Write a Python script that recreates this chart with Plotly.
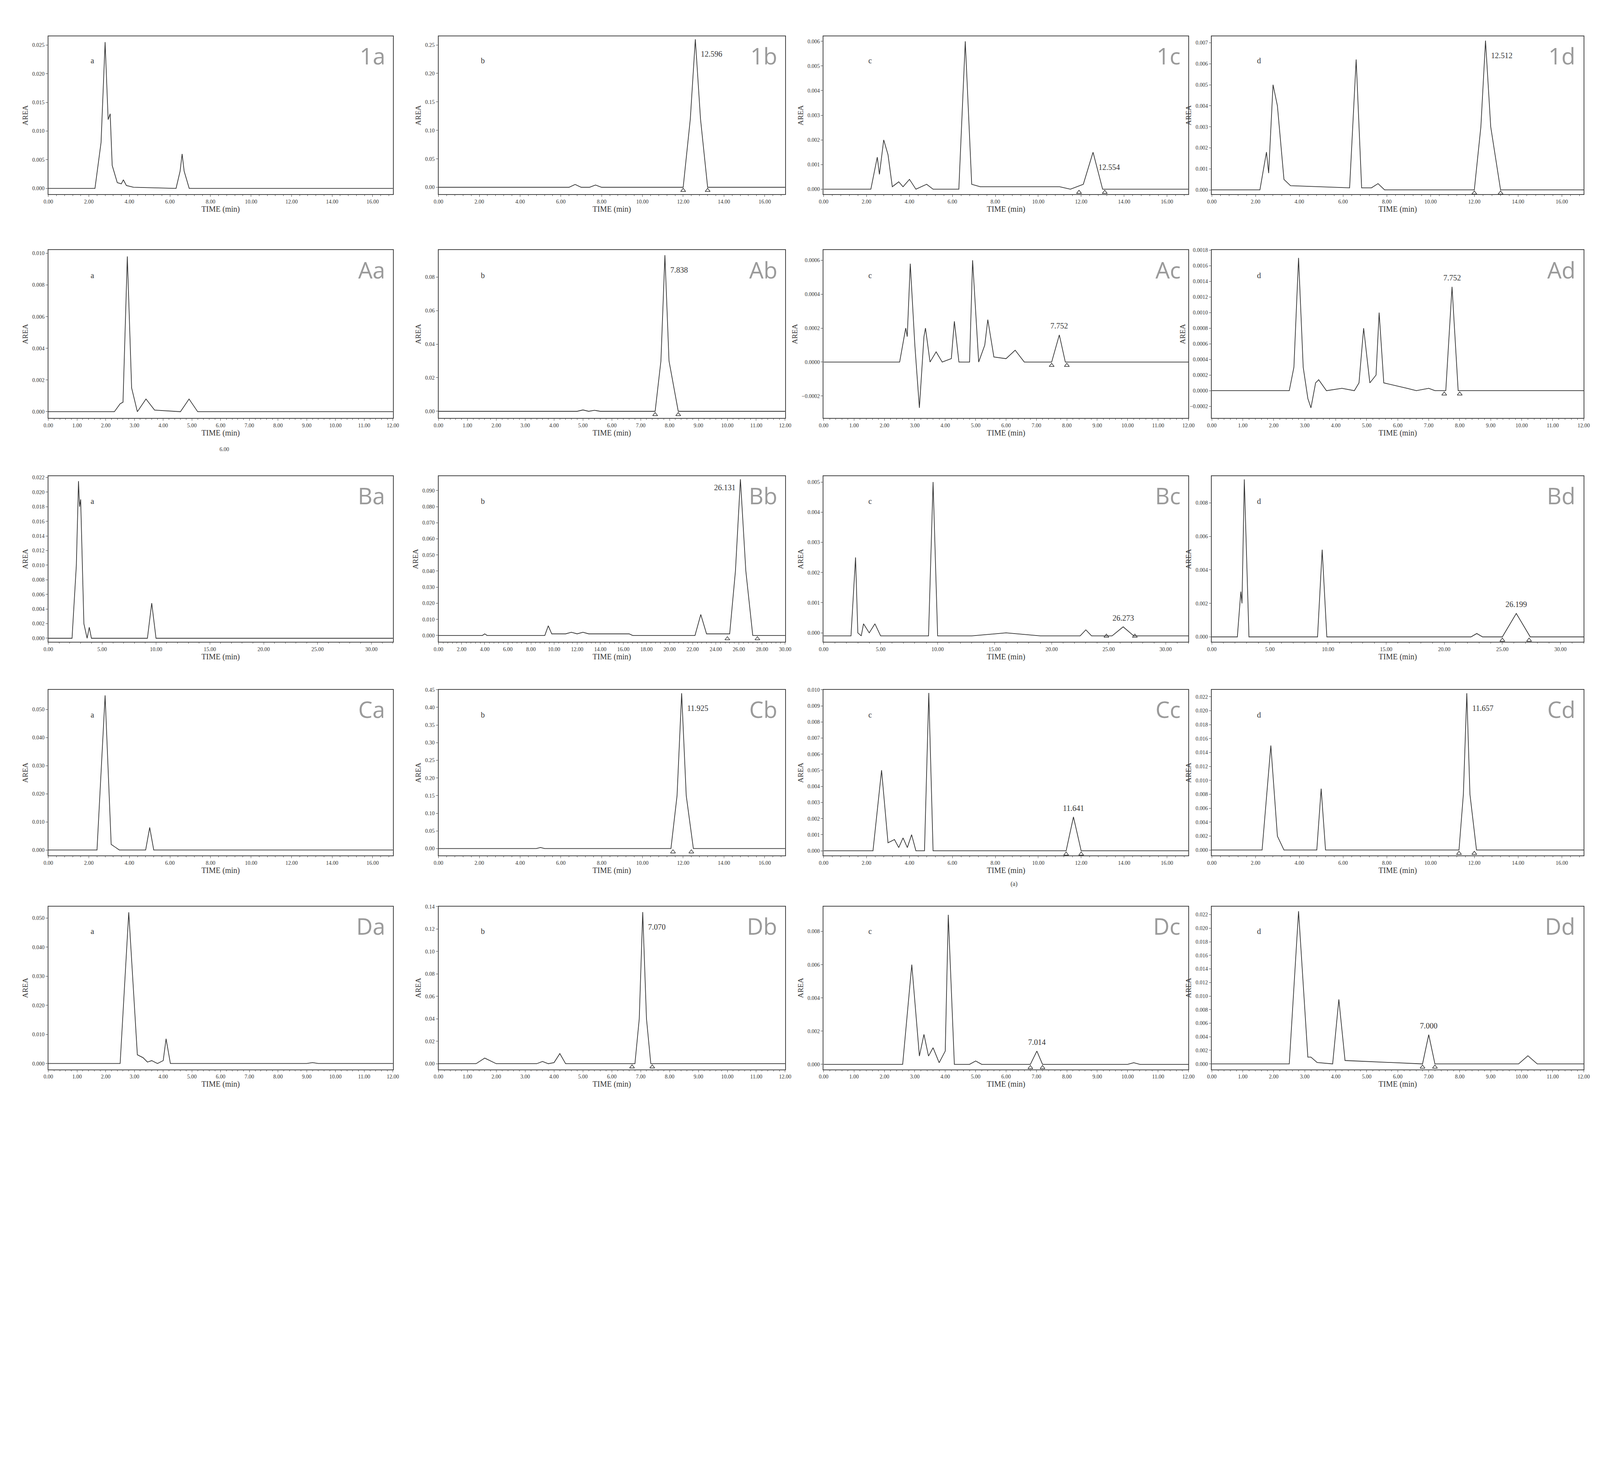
import plotly.graph_objects as go

# ---- chromatogram traces (time in min, AREA) ----
T_1A = [0, 2.3, 2.6, 2.8, 2.95, 3.05, 3.15, 3.4, 3.6, 3.7, 3.85, 4.2, 6.3, 6.5, 6.6, 6.7, 6.95, 17]
Y_1A = [0, 0, 0.008, 0.0255, 0.012, 0.013, 0.004, 0.001, 0.0008, 0.0015, 0.0005, 0.0002, 0, 0.003, 0.006, 0.003, 0, 0]
T_1B = [0, 6.4, 6.7, 7.0, 7.4, 7.7, 8.0, 12.0, 12.35, 12.596, 12.85, 13.2, 17]
Y_1B = [0, 0, 0.005, 0, 0, 0.004, 0, 0, 0.12, 0.26, 0.12, 0, 0]
T_1C = [0, 2.2, 2.5, 2.6, 2.8, 3.0, 3.2, 3.5, 3.7, 4.0, 4.3, 4.8, 5.1, 6.3, 6.6, 6.9, 7.3, 10.5, 11, 11.5, 12.1, 12.554, 13.0, 17]
Y_1C = [0, 0, 0.0013, 0.0006, 0.002, 0.0014, 0.0001, 0.0003, 0.0001, 0.0004, 0, 0.0002, 0, 0, 0.006, 0.0002, 0.0001, 0.0001, 0.0001, 0, 0.0002, 0.0015, 0, 0]
T_1D = [0, 2.2, 2.5, 2.6, 2.8, 3.0, 3.3, 3.6, 6.3, 6.6, 6.85, 7.3, 7.6, 7.9, 12.0, 12.3, 12.512, 12.75, 13.2, 17]
Y_1D = [0, 0, 0.0018, 0.0008, 0.005, 0.004, 0.0005, 0.0002, 0.0001, 0.0062, 0.0001, 0.0001, 0.0003, 0, 0, 0.003, 0.0071, 0.003, 0, 0]

T_AA = [0, 2.3, 2.5, 2.6, 2.75, 2.9, 3.1, 3.4, 3.7, 4.6, 4.9, 5.2, 12]
Y_AA = [0, 0, 0.0005, 0.0006, 0.0098, 0.0015, 0, 0.0008, 0.0001, 0, 0.0008, 0, 0]
T_AB = [0, 4.8, 5.0, 5.2, 5.4, 5.6, 7.5, 7.7, 7.838, 7.98, 8.3, 12]
Y_AB = [0, 0, 0.0008, 0, 0.0006, 0, 0, 0.03, 0.093, 0.03, 0, 0]
T_AC = [0, 2.5, 2.7, 2.75, 2.85, 3.0, 3.15, 3.3, 3.35, 3.5, 3.7, 3.9, 4.2, 4.3, 4.45, 4.8, 4.9, 5.1, 5.3, 5.4, 5.6, 6.0, 6.3, 6.6, 7.5, 7.752, 7.95, 12]
Y_AC = [0, 0, 0.0002, 0.00015, 0.00058, 0.0001, -0.00027, 0.00015, 0.0002, 0.0, 0.00006, 0.0, 0.00002, 0.00024, 0.0, 0, 0.0006, 0.0, 0.0001, 0.00025, 0.00003, 0.00002, 0.00007, 0.0, 0, 0.00016, 0, 0]
T_AD = [0, 2.5, 2.65, 2.8, 2.95, 3.1, 3.2, 3.35, 3.45, 3.7, 4.2, 4.6, 4.75, 4.9, 5.1, 5.3, 5.4, 5.55, 6.3, 6.6, 7.0, 7.2, 7.55, 7.752, 7.95, 12]
Y_AD = [0, 0, 0.0003, 0.0017, 0.0003, -0.0001, -0.00022, 0.0001, 0.00014, 0, 0.00003, 0, 0.0001, 0.0008, 0.0001, 0.0002, 0.001, 0.0001, 0.00003, 0, 0.00003, 0, 0, 0.00133, 0, 0]

T_BA = [0, 2.2, 2.6, 2.8, 2.9, 3.0, 3.3, 3.6, 3.8, 4.0, 9.2, 9.6, 10.0, 32]
Y_BA = [0, 0, 0.01, 0.0215, 0.018, 0.019, 0.002, 0, 0.0015, 0, 0, 0.0048, 0, 0]
T_BB = [0, 3.8, 4.0, 4.2, 9.2, 9.5, 9.8, 11.0, 11.5, 12.0, 12.5, 13.0, 16.2, 16.5, 16.8, 22.2, 22.7, 23.2, 25.2, 25.7, 26.131, 26.6, 27.2, 30]
Y_BB = [0, 0, 0.001, 0, 0, 0.006, 0.001, 0.001, 0.002, 0.001, 0.002, 0.001, 0.001, 0.001, 0, 0, 0.013, 0.001, 0.001, 0.04, 0.097, 0.04, 0, 0]
T_BC = [0, 2.4, 2.8, 3.0, 3.3, 3.5, 4.0, 4.5, 5.0, 9.2, 9.6, 10.0, 13, 16, 19, 22.5, 23, 23.5, 25.3, 26.273, 27.2, 32]
Y_BC = [-0.0001, -0.0001, 0.0025, 0, -0.0001, 0.0003, 0, 0.0003, -0.0001, -0.0001, 0.005, -0.0001, -0.0001, 0.0, -0.0001, -0.0001, 0.0001, -0.0001, -0.0001, 0.0002, -0.0001, -0.0001]
T_BD = [0, 2.2, 2.5, 2.6, 2.8, 3.2, 9.1, 9.5, 9.9, 22.3, 22.8, 23.3, 25.0, 25.6, 26.199, 26.8, 27.4, 32]
Y_BD = [0, 0, 0.0027, 0.002, 0.0094, 0, 0, 0.0052, 0, 0, 0.0002, 0, 0, 0.0007, 0.0014, 0.0007, 0, 0]

T_CA = [0, 2.4, 2.8, 3.1, 3.3, 3.5, 4.8, 5.0, 5.2, 17]
Y_CA = [0, 0, 0.055, 0.002, 0.001, 0, 0, 0.008, 0, 0]
T_CB = [0, 4.8, 5.0, 5.2, 11.4, 11.7, 11.925, 12.15, 12.5, 17]
Y_CB = [0, 0, 0.003, 0, 0, 0.15, 0.44, 0.15, 0, 0]
T_CC = [0, 2.3, 2.7, 3.0, 3.3, 3.5, 3.7, 3.9, 4.1, 4.3, 4.7, 4.9, 5.1, 11.3, 11.641, 12.0, 17]
Y_CC = [0, 0, 0.005, 0.0005, 0.0007, 0.0002, 0.0008, 0.0002, 0.001, 0, 0, 0.0098, 0, 0, 0.0021, 0, 0]
T_CD = [0, 2.3, 2.7, 3.0, 3.3, 4.8, 5.0, 5.2, 11.3, 11.5, 11.657, 11.8, 12.1, 17]
Y_CD = [0, 0, 0.015, 0.002, 0, 0, 0.0088, 0, 0, 0.008, 0.0225, 0.008, 0, 0]

T_DA = [0, 2.5, 2.8, 3.1, 3.3, 3.45, 3.6, 3.8, 4.0, 4.1, 4.25, 9.0, 9.2, 9.4, 12]
Y_DA = [0, 0, 0.052, 0.003, 0.002, 0.0005, 0.001, 0, 0.001, 0.0085, 0, 0, 0.0003, 0, 0]
T_DB = [0, 1.3, 1.6, 2.0, 3.4, 3.6, 3.8, 4.0, 4.2, 4.4, 6.8, 6.95, 7.07, 7.2, 7.35, 12]
Y_DB = [0, 0, 0.005, 0, 0, 0.002, 0, 0.001, 0.009, 0, 0, 0.04, 0.135, 0.04, 0, 0]
T_DC = [0, 2.6, 2.9, 3.15, 3.3, 3.45, 3.6, 3.8, 4.0, 4.1, 4.3, 4.8, 5.0, 5.2, 6.8, 7.014, 7.2, 10, 10.2, 10.4, 12]
Y_DC = [0, 0, 0.006, 0.0005, 0.0018, 0.0005, 0.001, 0.0001, 0.0008, 0.009, 0, 0, 0.0002, 0, 0, 0.0008, 0, 0, 0.0001, 0, 0]
T_DD = [0, 2.5, 2.8, 3.1, 3.2, 3.4, 3.9, 4.1, 4.3, 6.8, 7.0, 7.2, 9.9, 10.2, 10.5, 12]
Y_DD = [0, 0, 0.0225, 0.001, 0.001, 0.0002, 0, 0.0095, 0.0005, 0, 0.0043, 0, 0, 0.0012, 0, 0]

# panel names, labelled retention times and integration marks
NAMES = ["1a", "1b", "1c", "1d", "Aa", "Ab", "Ac", "Ad", "Ba", "Bb", "Bc", "Bd",
         "Ca", "Cb", "Cc", "Cd", "Da", "Db", "Dc", "Dd"]
TIMES = [T_1A, T_1B, T_1C, T_1D, T_AA, T_AB, T_AC, T_AD, T_BA, T_BB, T_BC, T_BD,
         T_CA, T_CB, T_CC, T_CD, T_DA, T_DB, T_DC, T_DD]
AREAS = [Y_1A, Y_1B, Y_1C, Y_1D, Y_AA, Y_AB, Y_AC, Y_AD, Y_BA, Y_BB, Y_BC, Y_BD,
         Y_CA, Y_CB, Y_CC, Y_CD, Y_DA, Y_DB, Y_DC, Y_DD]
# (time, apex height, where the label sits: r = right, u = above, l = left)
RT_LABEL = {"1b": (12.596, 0.26, "r"), "1c": (12.554, 0.0015, "r"), "1d": (12.512, 0.0071, "r"),
            "Ab": (7.838, 0.093, "r"), "Ac": (7.752, 0.00016, "u"), "Ad": (7.752, 0.00133, "u"),
            "Bb": (26.131, 0.097, "l"), "Bc": (26.273, 0.0002, "u"), "Bd": (26.199, 0.0014, "u"),
            "Cb": (11.925, 0.44, "r"), "Cc": (11.641, 0.0021, "u"), "Cd": (11.657, 0.0225, "r"),
            "Db": (7.070, 0.135, "r"), "Dc": (7.014, 0.0008, "u"), "Dd": (7.000, 0.0043, "u")}
MARKS = {"1b": [12.0, 13.2], "1c": [11.9, 13.1], "1d": [12.0, 13.2],
         "Ab": [7.5, 8.3], "Ac": [7.5, 8.0], "Ad": [7.5, 8.0],
         "Bb": [25.0, 27.6], "Bc": [24.8, 27.3], "Bd": [25.0, 27.3],
         "Cb": [11.5, 12.4], "Cc": [11.3, 12.0], "Cd": [11.3, 12.0],
         "Db": [6.7, 7.4], "Dc": [6.8, 7.2], "Dd": [6.8, 7.2]}
Y_RANGE = [(-0.001, 0.0265), (-0.012, 0.265), (-0.0002, 0.0062), (-0.0002, 0.0073),
           (-0.0004, 0.0102), (-0.004, 0.096), (-0.00033, 0.00066), (-0.00035, 0.0018),
           (-0.0005, 0.0222), (-0.004, 0.099), (-0.0003, 0.0052), (-0.0003, 0.0096),
           (-0.002, 0.057), (-0.02, 0.45), (-0.0003, 0.0100), (-0.0008, 0.0230),
           (-0.002, 0.054), (-0.005, 0.14), (-0.0003, 0.0095), (-0.0008, 0.0232)]
Y_DTICK = [0.005, 0.05, 0.001, 0.001, 0.002, 0.02, 0.0002, 0.0002, 0.002, 0.01, 0.001, 0.002,
           0.01, 0.05, 0.001, 0.002, 0.01, 0.02, 0.002, 0.002]
Y_FMT = [".3f", ".2f", ".3f", ".3f", ".3f", ".2f", ".4f", ".4f", ".3f", ".3f", ".3f", ".3f",
         ".3f", ".2f", ".3f", ".3f", ".3f", ".2f", ".3f", ".3f"]
X_AXIS = [(0, 17, 2), (0, 12, 1), (0, 32, 5), (0, 17, 2), (0, 12, 1)]
X_AXIS_BB = (0, 30, 2)

# panel frames in fractions of the page (1568 x 1082 grid)
COLS = [(40, 380), (425, 767), (805, 1165), (1188, 1555)]
ROWS = [(30, 185), (240, 405), (462, 625), (672, 835), (885, 1045)]
SX, SY = 1568.0, 1082.0

FONT = "Liberation Serif"
INK = "#333333"
fig = go.Figure()
layout = {}
annots = []

for i, name in enumerate(NAMES):
    r, c = divmod(i, 4)
    sfx = "" if i == 0 else str(i + 1)
    xa, ya = "x" + sfx, "y" + sfx
    y0, y1 = Y_RANGE[i]
    fig.add_trace(go.Scatter(x=TIMES[i], y=AREAS[i], mode="lines", xaxis=xa, yaxis=ya,
                             line=dict(color=INK, width=1.8), showlegend=False))
    if name in MARKS:
        fig.add_trace(go.Scatter(x=MARKS[name], y=[-(y1 - y0) * 0.02] * 2, mode="markers",
                                 xaxis=xa, yaxis=ya, showlegend=False,
                                 marker=dict(symbol="triangle-up-open", size=11,
                                             color=INK, line=dict(width=1.5))))
        t, h, pos = RT_LABEL[name]
        a = dict(x=t, y=h, xref=xa, yref=ya, text=f"{t:.3f}", showarrow=False,
                 font=dict(family=FONT, size=20, color=INK))
        if pos == "r":
            a.update(xanchor="left", yanchor="top", xshift=12, yshift=-25)
        elif pos == "l":
            a.update(xanchor="right", yanchor="top", xshift=-10, yshift=-8)
        else:
            a.update(xanchor="center", yanchor="bottom", yshift=10)
        annots.append(a)
    x0, x1, xd = X_AXIS_BB if name == "Bb" else X_AXIS[r]
    dom_x = [COLS[c][0] / SX, COLS[c][1] / SX]
    dom_y = [1 - ROWS[r][1] / SY, 1 - ROWS[r][0] / SY]
    axis_common = dict(showline=True, linecolor="#444444", linewidth=2, mirror=True,
                       showgrid=False, zeroline=False, ticks="outside", ticklen=5,
                       tickcolor="#444444", tickfont=dict(family=FONT, size=14, color=INK))
    layout["xaxis" + sfx] = dict(domain=dom_x, anchor=ya, range=[x0, x1], dtick=xd, tick0=0,
                                 tickformat=".2f",
                                 minor=dict(ticks="outside", ticklen=3, dtick=xd / 5,
                                            tickcolor="#444444"),
                                 title=dict(text="TIME (min)", standoff=4,
                                            font=dict(family=FONT, size=20, color=INK)),
                                 **axis_common)
    layout["yaxis" + sfx] = dict(domain=dom_y, anchor=xa, range=[y0, y1], dtick=Y_DTICK[i],
                                 tick0=0, tickformat=Y_FMT[i],
                                 title=dict(text="AREA", standoff=6,
                                            font=dict(family=FONT, size=19, color=INK)),
                                 **axis_common)
    annots.append(dict(x=0.12, y=0.88, xref=f"{xa} domain", yref=f"{ya} domain", text=name[1],
                       showarrow=False, font=dict(family=FONT, size=20, color=INK)))
    annots.append(dict(x=0.98, y=0.98, xref=f"{xa} domain", yref=f"{ya} domain", text=name,
                       showarrow=False, xanchor="right", yanchor="top",
                       font=dict(family="Open Sans", size=58, color="#9a9a9a")))

annots.append(dict(x=993 / SX, y=1 - 867 / SY, xref="paper", yref="paper", text="(a)",
                   showarrow=False, font=dict(family=FONT, size=16, color=INK)))
annots.append(dict(x=208 / SX, y=1 - 436 / SY, xref="paper", yref="paper", text="6.00",
                   showarrow=False, font=dict(family=FONT, size=14, color=INK)))

fig.update_layout(width=4096, height=2826, paper_bgcolor="white", plot_bgcolor="white",
                  margin=dict(l=0, r=0, t=0, b=0), annotations=annots, **layout)
fig.write_html("out.html")
